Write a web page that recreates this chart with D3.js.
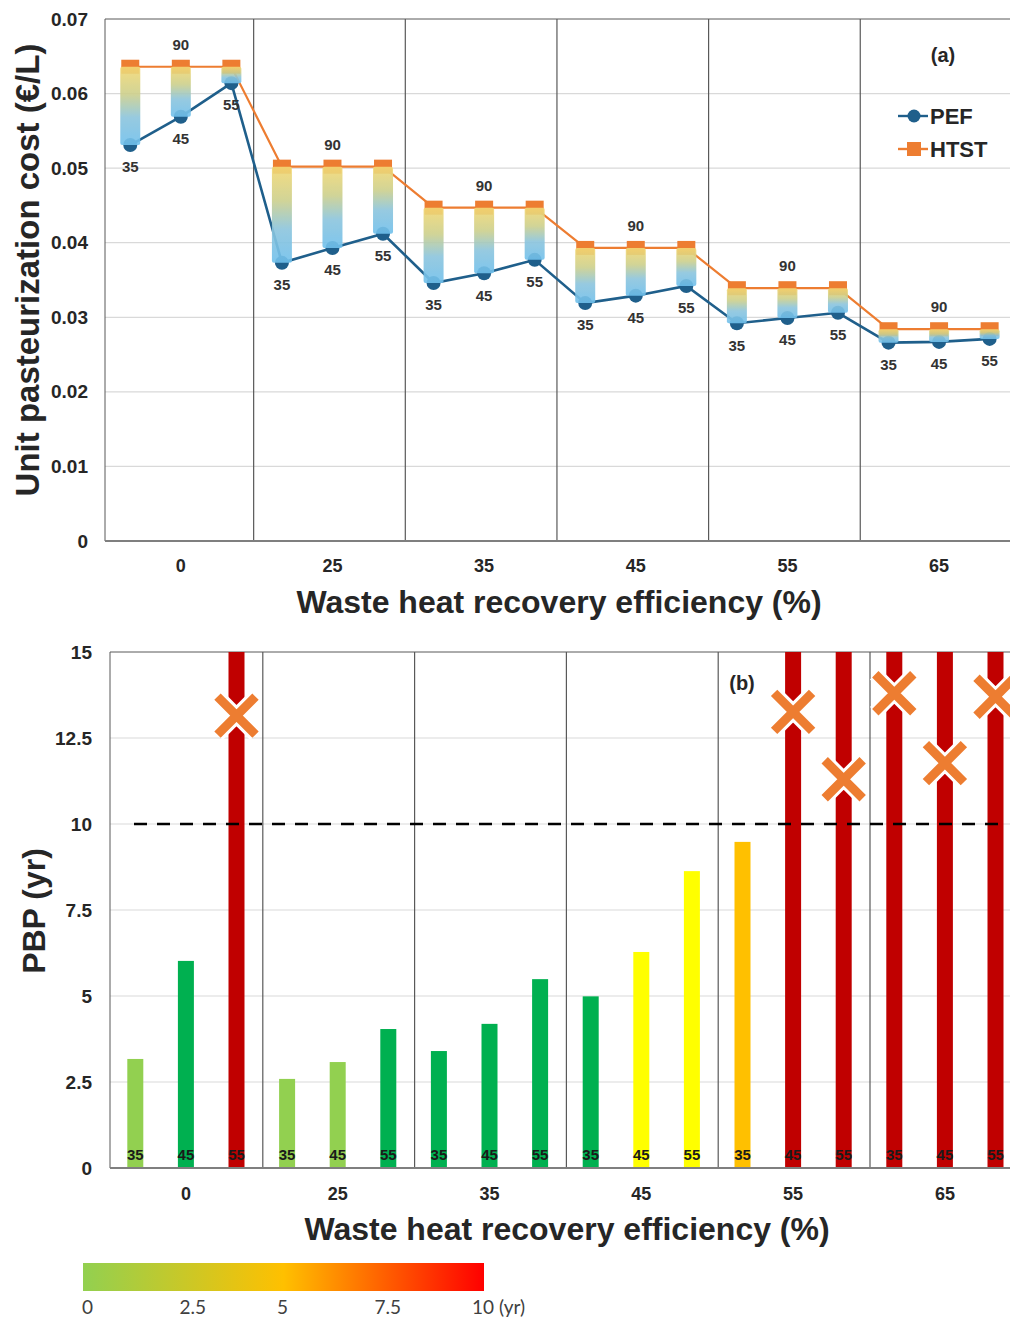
<!DOCTYPE html>
<html><head><meta charset="utf-8">
<script src="https://cdn.jsdelivr.net/npm/d3@7"></script>
<style>body{margin:0;background:#fff;overflow:hidden}</style>
</head><body>
<svg id="chart" width="1010" height="1318"></svg>
<script>
// ---------- DATA ----------
const efficiencies = ["0", "25", "35", "45", "55", "65"];
const subLabels = ["35", "45", "55"];
const topLabel = "90";
const htstCost = [0.0636, 0.0636, 0.0636, 0.0502, 0.0502, 0.0502, 0.0447, 0.0447, 0.0447,
                  0.0393, 0.0393, 0.0393, 0.0339, 0.0339, 0.0339, 0.0284, 0.0284, 0.0284];
const pefCost = [0.0531, 0.0569, 0.0614, 0.0373, 0.0393, 0.0412, 0.0346, 0.0359, 0.0377,
                 0.0319, 0.0329, 0.0342, 0.0292, 0.0299, 0.0306, 0.0266, 0.0267, 0.0271];
const costTicks = [0, 0.01, 0.02, 0.03, 0.04, 0.05, 0.06, 0.07];
const pbpValues = [3.17, 6.02, 15, 2.59, 3.08, 4.04, 3.40, 4.19, 5.49,
                   4.99, 6.28, 8.63, 9.48, 15, 15, 15, 15, 15];
const pbpClass = ["lightgreen", "green", "red", "lightgreen", "lightgreen", "green", "green", "green", "green",
                  "green", "yellow", "yellow", "orange", "red", "red", "red", "red", "red"];
const xMarkValues = [null, null, 13.15, null, null, null, null, null, null,
                     null, null, null, null, 13.26, 11.3, 13.8, 11.77, 13.7];
const pbpTicks = [0, 2.5, 5, 7.5, 10, 12.5, 15];
const pbpThreshold = 10;
const colorbarTicks = ["0", "2.5", "5", "7.5", "10 (yr)"];
const colorbarValues = [0, 2.5, 5, 7.5, 10];

// ---------- STYLE ----------
const classColor = {lightgreen: "#92d050", green: "#00b050", yellow: "#ffff00", orange: "#ffc000", red: "#c00000"};
const ORANGE = "#ed7d31", BLUE = "#1f5f8b", INK = "#262626";
const FONT = "'Liberation Sans', Arial, sans-serif";

const svg = d3.select("#chart").style("font-family", FONT);
const keys = efficiencies.flatMap(e => subLabels.map(s => e + "|" + s));
const pts = keys.map((k, i) => ({k, i, grp: efficiencies[Math.floor(i / 3)], sub: subLabels[i % 3]}));

const defs = svg.append("defs");
const grad = defs.append("linearGradient").attr("id", "barGrad").attr("x1", 0).attr("y1", 0).attr("x2", 0).attr("y2", 1);
[[0, "#f4d873"], [0.35, "#cdd08c"], [0.65, "#8cc5dd"], [1, "#70c0ec"]].forEach(([o, c]) =>
  grad.append("stop").attr("offset", o).attr("stop-color", c));
const cbGrad = defs.append("linearGradient").attr("id", "cbGrad");
[[0, "#92d050"], [0.5, "#ffc000"], [1, "#ff0000"]].forEach(([o, c]) =>
  cbGrad.append("stop").attr("offset", o).attr("stop-color", c));
defs.append("filter").attr("id", "soft").append("feGaussianBlur").attr("stdDeviation", 0.7);

// ================= TOP CHART =================
const tL = 105, tTop = 19, tBot = 541, band = 50.55;
const xT = d3.scaleBand().domain(keys).range([tL, tL + band * 18]);
const cx = k => xT(k) + xT.bandwidth() / 2;
const yT = d3.scaleLinear().domain([0, 0.07]).range([tBot, tTop]);
const gT = svg.append("g");

gT.selectAll("line.grid").data(costTicks.filter(t => t > 0 && t < 0.07)).join("line")
  .attr("x1", tL).attr("x2", 1010).attr("y1", d => yT(d)).attr("y2", d => yT(d))
  .attr("stroke", "#d9d9d9").attr("stroke-width", 1.2);
gT.append("line").attr("x1", tL).attr("x2", 1010).attr("y1", tTop).attr("y2", tTop).attr("stroke", "#595959");
gT.append("line").attr("x1", tL).attr("x2", tL).attr("y1", tTop).attr("y2", tBot).attr("stroke", "#595959");
gT.selectAll("line.div").data(efficiencies.slice(1)).join("line")
  .attr("x1", e => xT(e + "|35") - 3).attr("x2", e => xT(e + "|35") - 3)
  .attr("y1", tTop).attr("y2", tBot).attr("stroke", "#595959").attr("stroke-width", 1.2);
const yAxT = d3.axisLeft(yT).tickValues(costTicks).tickFormat(d => d === 0 ? "0" : d3.format(".2f")(d)).tickSize(0).tickPadding(17);
gT.append("g").attr("transform", `translate(${tL},0)`).call(yAxT)
  .call(g => g.select(".domain").remove())
  .call(g => g.selectAll("text").attr("font-size", 19).attr("font-weight", "bold").attr("fill", INK).attr("font-family", FONT));
gT.append("line").attr("x1", tL).attr("x2", 1010).attr("y1", tBot).attr("y2", tBot).attr("stroke", "#7f7f7f").attr("stroke-width", 2);
gT.selectAll("text.grp").data(efficiencies).join("text")
  .attr("x", e => cx(e + "|45")).attr("y", 572).attr("text-anchor", "middle")
  .attr("font-size", 18).attr("font-weight", "bold").attr("fill", INK).text(d => d);

const lineGen = acc => d3.line().x(d => cx(d.k)).y(d => yT(acc(d)));
gT.append("path").datum(pts).attr("d", lineGen(d => htstCost[d.i])).attr("fill", "none").attr("stroke", ORANGE).attr("stroke-width", 2.2);
gT.append("path").datum(pts).attr("d", lineGen(d => pefCost[d.i])).attr("fill", "none").attr("stroke", BLUE).attr("stroke-width", 2.6);
gT.selectAll("rect.htst").data(pts).join("rect")
  .attr("x", d => cx(d.k) - 9).attr("y", d => yT(htstCost[d.i]) - 7).attr("width", 18).attr("height", 14).attr("fill", ORANGE);
gT.selectAll("circle.pef").data(pts).join("circle")
  .attr("cx", d => cx(d.k)).attr("cy", d => yT(pefCost[d.i])).attr("r", 7).attr("fill", BLUE);
gT.selectAll("rect.gbar").data(pts).join("rect")
  .attr("x", d => cx(d.k) - 10).attr("y", d => yT(htstCost[d.i]))
  .attr("width", 20).attr("height", d => yT(pefCost[d.i]) - yT(htstCost[d.i]))
  .attr("rx", 2).attr("fill", "url(#barGrad)").attr("opacity", 0.9).attr("filter", "url(#soft)");
gT.selectAll("text.sub").data(pts).join("text")
  .attr("x", d => cx(d.k)).attr("y", d => yT(pefCost[d.i]) + 22).attr("dy", "0.35em")
  .attr("text-anchor", "middle").attr("font-size", 15).attr("font-weight", "bold").attr("fill", "#333").text(d => d.sub);
gT.selectAll("text.top").data(pts.filter(d => d.sub === "45")).join("text")
  .attr("x", d => cx(d.k)).attr("y", d => yT(htstCost[d.i]) - 22).attr("dy", "0.35em")
  .attr("text-anchor", "middle").attr("font-size", 15).attr("font-weight", "bold").attr("fill", "#333").text(topLabel);

gT.append("text").attr("x", 943).attr("y", 62).attr("text-anchor", "middle").attr("font-size", 20).attr("font-weight", "bold").attr("fill", INK).text("(a)");
const leg = [{name: "PEF", color: BLUE, y: 116, shape: "circle"}, {name: "HTST", color: ORANGE, y: 149, shape: "rect"}];
leg.forEach(l => {
  gT.append("line").attr("x1", 898).attr("x2", 928).attr("y1", l.y).attr("y2", l.y).attr("stroke", l.color).attr("stroke-width", 2.4);
  if (l.shape === "circle") gT.append("circle").attr("cx", 914).attr("cy", l.y).attr("r", 6.5).attr("fill", l.color);
  else gT.append("rect").attr("x", 907).attr("y", l.y - 7).attr("width", 14).attr("height", 14).attr("fill", l.color);
  gT.append("text").attr("x", 930).attr("y", l.y).attr("dy", "0.36em").attr("font-size", 22).attr("font-weight", "bold").attr("fill", INK).text(l.name);
});
gT.append("text").attr("transform", `translate(39,270) rotate(-90)`).attr("text-anchor", "middle")
  .attr("font-size", 33).attr("font-weight", "bold").attr("fill", INK).text("Unit pasteurization cost (€/L)");
gT.append("text").attr("x", 559).attr("y", 613).attr("text-anchor", "middle")
  .attr("font-size", 32).attr("font-weight", "bold").attr("fill", INK).text("Waste heat recovery efficiency (%)");

// ================= BOTTOM CHART =================
const bL = 110, bTop = 652, bBot = 1168, bBand = 50.6;
const xB = d3.scaleBand().domain(keys).range([bL, bL + bBand * 18]);
const bx = k => xB(k) + xB.bandwidth() / 2;
const yB = d3.scaleLinear().domain([0, 15]).range([bBot, bTop]);
const gB = svg.append("g");

gB.selectAll("line.grid").data(pbpTicks.filter(t => t > 0 && t < 15)).join("line")
  .attr("x1", bL).attr("x2", 1010).attr("y1", d => yB(d)).attr("y2", d => yB(d))
  .attr("stroke", "#d9d9d9").attr("stroke-width", 1.2);
gB.append("line").attr("x1", bL).attr("x2", 1010).attr("y1", bTop).attr("y2", bTop).attr("stroke", "#595959");
gB.append("line").attr("x1", bL).attr("x2", bL).attr("y1", bTop).attr("y2", bBot).attr("stroke", "#595959");
gB.selectAll("line.div").data(efficiencies.slice(1)).join("line")
  .attr("x1", e => xB(e + "|35") + 1).attr("x2", e => xB(e + "|35") + 1)
  .attr("y1", bTop).attr("y2", bBot).attr("stroke", "#595959").attr("stroke-width", 1.2);
const yAxB = d3.axisLeft(yB).tickValues(pbpTicks).tickFormat(d => String(d)).tickSize(0).tickPadding(18);
gB.append("g").attr("transform", `translate(${bL},0)`).call(yAxB)
  .call(g => g.select(".domain").remove())
  .call(g => g.selectAll("text").attr("font-size", 19).attr("font-weight", "bold").attr("fill", INK).attr("font-family", FONT));

gB.selectAll("rect.bar").data(pts).join("rect")
  .attr("x", d => bx(d.k) - 8).attr("y", d => yB(pbpValues[d.i]))
  .attr("width", 16).attr("height", d => bBot - yB(pbpValues[d.i]))
  .attr("fill", d => classColor[pbpClass[d.i]]);
gB.append("line").attr("x1", 134).attr("x2", 1000).attr("y1", yB(pbpThreshold)).attr("y2", yB(pbpThreshold))
  .attr("stroke", "#000").attr("stroke-width", 2.5).attr("stroke-dasharray", "13,10");
gB.append("line").attr("x1", bL).attr("x2", 1010).attr("y1", bBot).attr("y2", bBot).attr("stroke", "#7f7f7f").attr("stroke-width", 2);
const xm = pts.filter(d => xMarkValues[d.i] !== null);
const xPath = d => { const x = bx(d.k), y = yB(xMarkValues[d.i]), s = 19;
  return `M${x - s},${y - s}L${x + s},${y + s}M${x - s},${y + s}L${x + s},${y - s}`; };
gB.selectAll("path.xw").data(xm).join("path").attr("d", xPath).attr("stroke", "#fff").attr("stroke-width", 15).attr("fill", "none");
gB.selectAll("path.xo").data(xm).join("path").attr("d", xPath).attr("stroke", ORANGE).attr("stroke-width", 9).attr("fill", "none");
gB.selectAll("text.sub").data(pts).join("text")
  .attr("x", d => bx(d.k)).attr("y", 1155).attr("dy", "0.35em")
  .attr("text-anchor", "middle").attr("font-size", 15).attr("font-weight", "bold").attr("fill", "#1a1a1a").text(d => d.sub);
gB.selectAll("text.grp").data(efficiencies).join("text")
  .attr("x", e => bx(e + "|45")).attr("y", 1200).attr("text-anchor", "middle")
  .attr("font-size", 18).attr("font-weight", "bold").attr("fill", INK).text(d => d);
gB.append("text").attr("x", 742).attr("y", 690).attr("text-anchor", "middle").attr("font-size", 20).attr("font-weight", "bold").attr("fill", INK).text("(b)");
gB.append("text").attr("transform", `translate(45,911) rotate(-90)`).attr("text-anchor", "middle")
  .attr("font-size", 32).attr("font-weight", "bold").attr("fill", INK).text("PBP (yr)");
gB.append("text").attr("x", 567).attr("y", 1240).attr("text-anchor", "middle")
  .attr("font-size", 32).attr("font-weight", "bold").attr("fill", INK).text("Waste heat recovery efficiency (%)");

// colorbar
svg.append("rect").attr("x", 83).attr("y", 1263).attr("width", 401).attr("height", 28).attr("fill", "url(#cbGrad)");
const cbX = d3.scaleLinear().domain([0, 10]).range([82, 472]);
svg.selectAll("text.cb").data(colorbarValues).join("text")
  .attr("x", d => cbX(d)).attr("y", 1314).attr("font-size", 19).attr("font-family", "Lato, 'Open Sans', sans-serif")
  .attr("fill", "#404040").text((d, i) => colorbarTicks[i]);
</script>
</body></html>
